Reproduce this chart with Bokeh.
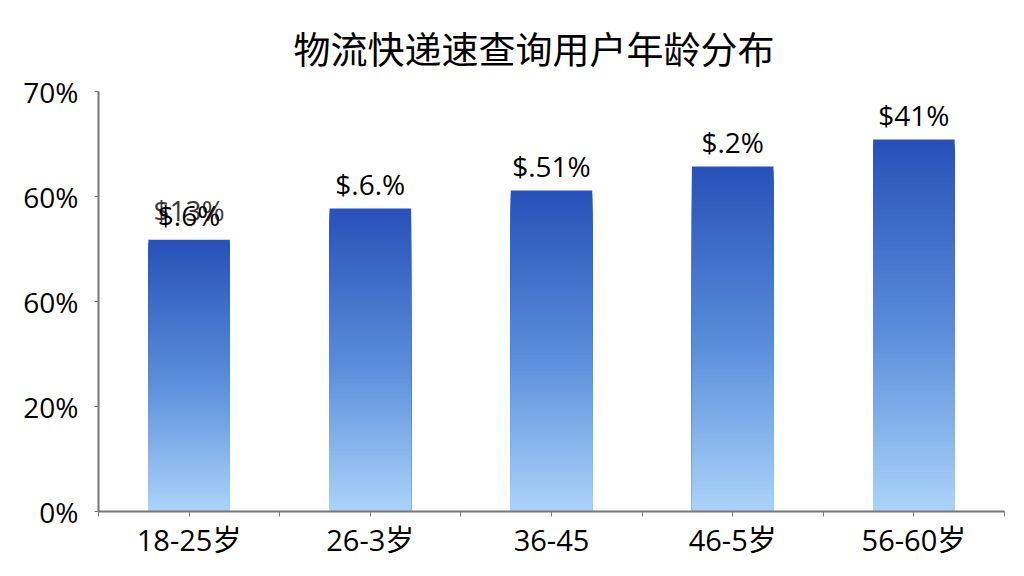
from bokeh.plotting import figure
from bokeh.models import FixedTicker
from bokeh.embed import file_html
from bokeh.resources import INLINE
from bokeh.core.properties import value

# ---- data ----
title_text = "物流快递速查询用户年龄分布"
categories = ["18-25岁", "26-3岁", "36-45", "46-5岁", "56-60岁"]
values = [45.3, 50.5, 53.5, 57.5, 62.0]
bar_labels = ["$.6%", "$.6.%", "$.51%", "$.2%", "$41%"]
ghost_labels = ["$13%", "", "", "", ""]
y_tick_values = [0, 17.5, 35, 52.5, 70]
y_tick_labels = ["0%", "20%", "60%", "60%", "70%"]

LATIN = "'Open Sans', 'Noto Sans CJK SC'"
CJK = "'Noto Sans CJK SC'"

n = len(categories)
centers = [i + 0.5 for i in range(n)]

p = figure(width=1016, height=568, output_backend="svg", toolbar_location=None,
           x_range=(0, n), y_range=(0, 70),
           min_border_left=98, min_border_right=12, min_border_top=91, min_border_bottom=57)
p.outline_line_color = None
p.background_fill_color = "white"
p.border_fill_color = "white"
p.grid.visible = False

# title
p.title.text = title_text
p.title.text_font = CJK
p.title.text_font_size = "37px"
p.title.text_font_style = "normal"
p.title.text_color = "#000000"
p.title.align = "left"
p.title.offset = 195
p.title.standoff = 34

# gradient bars (stacked painter approach: tallest slice drawn first)
def mix(c1, c2, t):
    return tuple(int(round(a + (b - a) * t)) for a, b in zip(c1, c2))

top_c = (40, 82, 184)
mid_c = (88, 140, 218)
bot_c = (172, 212, 250)

N = 80
lefts, rights, tops, colors = [], [], [], []
for k in range(N, 0, -1):
    f = k / N  # fraction of bar height at slice top
    if f > 0.5:
        c = mix(mid_c, top_c, (f - 0.5) / 0.5)
    else:
        c = mix(bot_c, mid_c, f / 0.5)
    hexc = "#%02x%02x%02x" % c
    for cx, v in zip(centers, values):
        lefts.append(cx - 0.225)
        rights.append(cx + 0.225)
        tops.append(v * f)
        colors.append(hexc)
p.quad(left=lefts, right=rights, bottom=[0] * len(tops), top=tops,
       fill_color=colors, line_color=None)

# bar labels
p.text(x=centers, y=values, text=bar_labels, text_align="center", text_baseline="bottom",
       y_offset=-6, text_font=value("Open Sans"), text_font_size="28px", text_color="#000000")
p.text(x=centers, y=values, text=ghost_labels, text_align="center", text_baseline="bottom",
       y_offset=-11, text_font=value("Open Sans"), text_font_size="28px", text_color="#000000",
       text_alpha=0.8)

# axes
ya = p.yaxis[0]
ya.ticker = FixedTicker(ticks=y_tick_values)
ya.major_label_overrides = {v: l for v, l in zip(y_tick_values, y_tick_labels)}
ya.major_label_text_font = LATIN
ya.major_label_text_font_size = "28px"
ya.major_label_text_color = "#000000"
ya.axis_line_color = "#777777"
ya.axis_line_width = 2
ya.major_tick_line_color = "#777777"
ya.major_tick_out = 4
ya.major_tick_in = 0
ya.minor_tick_line_color = None
ya.major_label_standoff = 16

xa = p.xaxis[0]
xticks = [i * 0.5 for i in range(2 * n + 1)]
xa.ticker = FixedTicker(ticks=xticks)
overrides = {t: "" for t in xticks}
for cx, lab in zip(centers, categories):
    overrides[cx] = lab
xa.major_label_overrides = overrides
xa.major_label_text_font = LATIN
xa.major_label_text_font_size = "29px"
xa.major_label_text_color = "#000000"
xa.axis_line_color = "#777777"
xa.axis_line_width = 2
xa.major_tick_line_color = "#777777"
xa.major_tick_out = 5
xa.major_tick_in = 0
xa.minor_tick_line_color = None
xa.major_label_standoff = 3

open("out.html", "w").write(file_html(p, INLINE))
